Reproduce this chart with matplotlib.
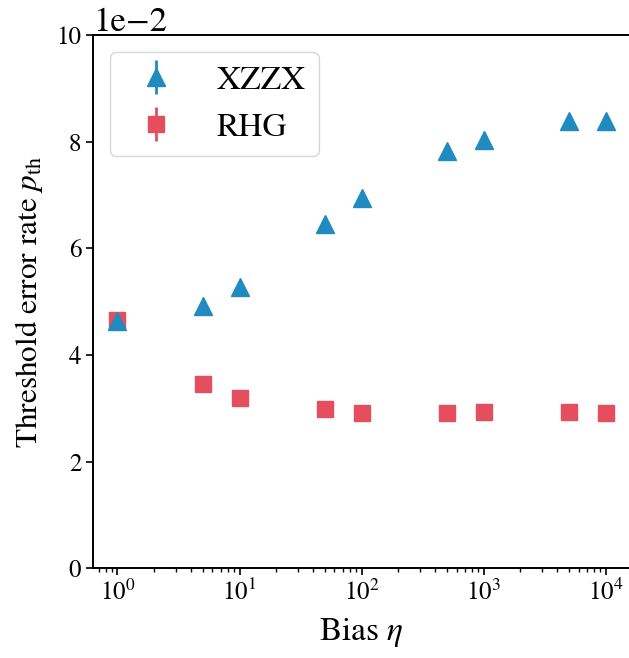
import matplotlib
matplotlib.use("Agg")
import matplotlib.pyplot as plt
import numpy as np

plt.rcParams['font.family'] = ['STIXGeneral', 'DejaVu Sans']
plt.rcParams['mathtext.fontset'] = 'stix'

# Data
bias = [1, 5, 10, 50, 100, 500, 1000, 5000, 10000]
p_xzzx = [0.0463, 0.0492, 0.0528, 0.0645, 0.0694, 0.0782, 0.0803, 0.0840, 0.0840]
p_rhg = [0.0466, 0.0346, 0.0320, 0.0298, 0.0292, 0.0292, 0.0294, 0.0294, 0.0292]
err_xzzx = [0.0003, 0.0003, 0.0003, 0.0003, 0.0003, 0.0003, 0.0003, 0.0003, 0.0003]
err_rhg = [0.0003, 0.0003, 0.0003, 0.0003, 0.0003, 0.0003, 0.0003, 0.0003, 0.0003]

blue = '#1f8bbe'
red = '#e54e5e'

fig = plt.figure(figsize=(6.29, 6.58), dpi=100)
ax = fig.add_axes([0.148, 0.1364, 0.8536, 0.81])

# XZZX drawn above RHG where they overlap
ax.errorbar(bias, p_xzzx, yerr=err_xzzx, fmt='^', color=blue, ms=12.5,
            elinewidth=2, label='XZZX', zorder=3)
ax.errorbar(bias, p_rhg, yerr=err_rhg, fmt='s', color=red, ms=12,
            elinewidth=2, label='RHG', zorder=2)

ax.set_xscale('log')
ax.set_ylim(0, 0.1)
ax.ticklabel_format(axis='y', style='sci', scilimits=(-2, -2))
ax.yaxis.get_offset_text().set_fontsize(25)

ax.set_xlabel(r'Bias $\eta$', fontsize=24, labelpad=7)
ax.set_ylabel(r'Threshold error rate $p_{\rm th}$', fontsize=22.5, labelpad=8)
ax.tick_params(labelsize=18, width=1.2)
ax.tick_params(which='major', length=5)
ax.tick_params(which='minor', length=3, width=1)
for s in ax.spines.values():
    s.set_linewidth(1.4)

ax.legend(loc='upper left', fontsize=24)

fig.savefig('out.png', dpi=100)
